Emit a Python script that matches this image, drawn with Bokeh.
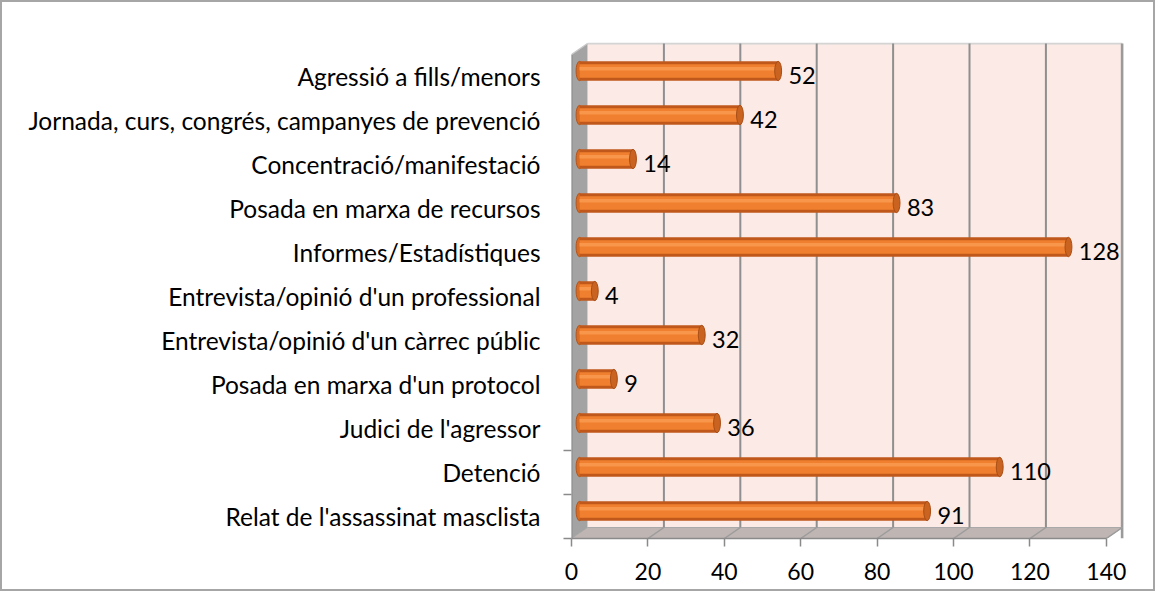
from bokeh.plotting import figure
from bokeh.models import FixedTicker, Range1d, ColumnDataSource
from bokeh.core.properties import value
from bokeh.embed import file_html
from bokeh.resources import INLINE

# ---- data (bottom to top) ----
categories = [
    "Relat de l'assassinat masclista",
    "Detenció",
    "Judici de l'agressor",
    "Posada en marxa d'un protocol",
    "Entrevista/opinió d'un càrrec públic",
    "Entrevista/opinió d'un professional",
    "Informes/Estadístiques",
    "Posada en marxa de recursos",
    "Concentració/manifestació",
    "Jornada, curs, congrés, campanyes de prevenció",
    "Agressió a fills/menors",
]
counts = [91, 110, 36, 9, 32, 4, 128, 83, 14, 42, 52]
x_ticks = [0, 20, 40, 60, 80, 100, 120, 140]

# ---- geometry (3D-like offsets in data units) ----
DX = 4.19      # depth offset along x (back wall vs front)
DY = 0.25      # depth offset along y
XMAX = 140
N = len(categories)
FONT = value("Lato")

W, H = 1155, 591
p = figure(width=W, height=H, output_backend="svg", toolbar_location=None,
           x_range=Range1d(0, 144.5), y_range=Range1d(0, 11.2727),
           min_border_left=569, min_border_right=34, min_border_top=40,
           min_border_bottom=55)
p.outline_line_color = None
p.xgrid.visible = False
p.ygrid.visible = False
p.background_fill_color = "white"
p.border_fill_color = "white"
p.styles = {"border": "2px solid #a6a6a6", "box-sizing": "border-box"}

# back wall
p.patch([DX, XMAX + DX, XMAX + DX, DX], [DY, DY, N + DY, N + DY],
        fill_color="#FBEAE5", line_color=None)
# top edge of back wall
p.line([DX, XMAX + DX], [N + DY, N + DY], line_color="#d4d4d4", line_width=2)
# right edge of back wall
p.line([XMAX + DX, XMAX + DX], [0, N + DY], line_color="#9a9a9a", line_width=3)
# floor
p.patch([0, XMAX, XMAX + DX, DX], [0, 0, DY, DY],
        fill_color="#BFB5B3", line_color="#a9a9a9", line_width=1)
# left wall
p.patch([0, DX, DX, 0], [0, DY, N + DY, N],
        fill_color="#A3A3A3", line_color=None)
p.line([0, 0], [0, N], line_color="#8a8a8a", line_width=2)
p.line([0, DX], [N, N + DY], line_color="#c8c8c8", line_width=1.5)

# gridlines on back wall and floor
gx = [t for t in x_ticks if 0 < t < XMAX]
p.segment(x0=[t + DX for t in gx], y0=[DY] * len(gx),
          x1=[t + DX for t in gx], y1=[N + DY] * len(gx),
          line_color="#8f8f8f", line_width=2)
p.segment(x0=[t for t in x_ticks[1:]], y0=[0] * (len(x_ticks) - 1),
          x1=[t + DX for t in x_ticks[1:]], y1=[DY] * (len(x_ticks) - 1),
          line_color="#9c9c9c", line_width=1.5)

# bars (cylinders)
BX = DX / 2
BY = 0.125
bh = 0.44
ys = [i + 0.5 + BY for i in range(N)]
src = ColumnDataSource(dict(
    y=ys,
    yhi=[yy + bh * 0.12 for yy in ys],
    right=[BX + c for c in counts],
    left=[BX] * N,
    ylab=[i + 0.53 for i in range(N)],
    xlab=[c + 4.8 for c in counts],
    txt=[str(c) for c in counts],
))
p.ellipse(x="left", y="y", width=1.8, height=bh, source=src,
          fill_color="#D86C24", line_color="#B4541A", line_width=1)
p.hbar(y="y", left="left", right="right", height=bh, source=src,
       fill_color="#C0581B", line_color=None)
p.hbar(y="y", left="left", right="right",
       height=bh * 0.70, source=src, fill_color="#F0802F", line_color=None)
p.hbar(y="yhi", left="left", right="right", height=bh * 0.18, source=src,
       fill_color="#F8964B", line_color=None)
p.ellipse(x="right", y="y", width=1.8, height=bh, source=src,
          fill_color="#C9631F", line_color="#A84E18", line_width=1)

# value labels
p.text(x="xlab", y="ylab", text="txt", source=src, text_font=FONT,
       text_font_size="23.5px", text_color="black",
       text_align="left", text_baseline="middle")

# axes
xa = p.xaxis[0]
xa.ticker = FixedTicker(ticks=x_ticks)
xa.bounds = (0, XMAX)
xa.axis_line_color = "#8a8a8a"
xa.axis_line_width = 1.5
xa.major_tick_out = 8
xa.major_tick_in = 0
xa.major_tick_line_color = "#8a8a8a"
xa.major_tick_line_width = 1.5
xa.minor_tick_line_color = None
xa.major_label_text_font = "Lato"
xa.major_label_text_font_size = "23px"
xa.major_label_text_color = "black"
xa.major_label_standoff = 16

ya = p.yaxis[0]
ya.ticker = FixedTicker(ticks=[i + 0.5 for i in range(N)], minor_ticks=[0, 1, 2])
ya.major_label_overrides = {i + 0.5: c for i, c in enumerate(categories)}
ya.bounds = (0, N)
ya.axis_line_color = None
ya.major_tick_out = 0
ya.major_tick_in = 0
ya.minor_tick_out = 8
ya.minor_tick_in = 0
ya.minor_tick_line_color = "#8a8a8a"
ya.minor_tick_line_width = 1.5
ya.major_label_text_font = "Lato"
ya.major_label_text_font_size = "24.5px"
ya.major_label_text_color = "black"
ya.major_label_standoff = 23

open("out.html", "w").write(file_html(p, INLINE))
